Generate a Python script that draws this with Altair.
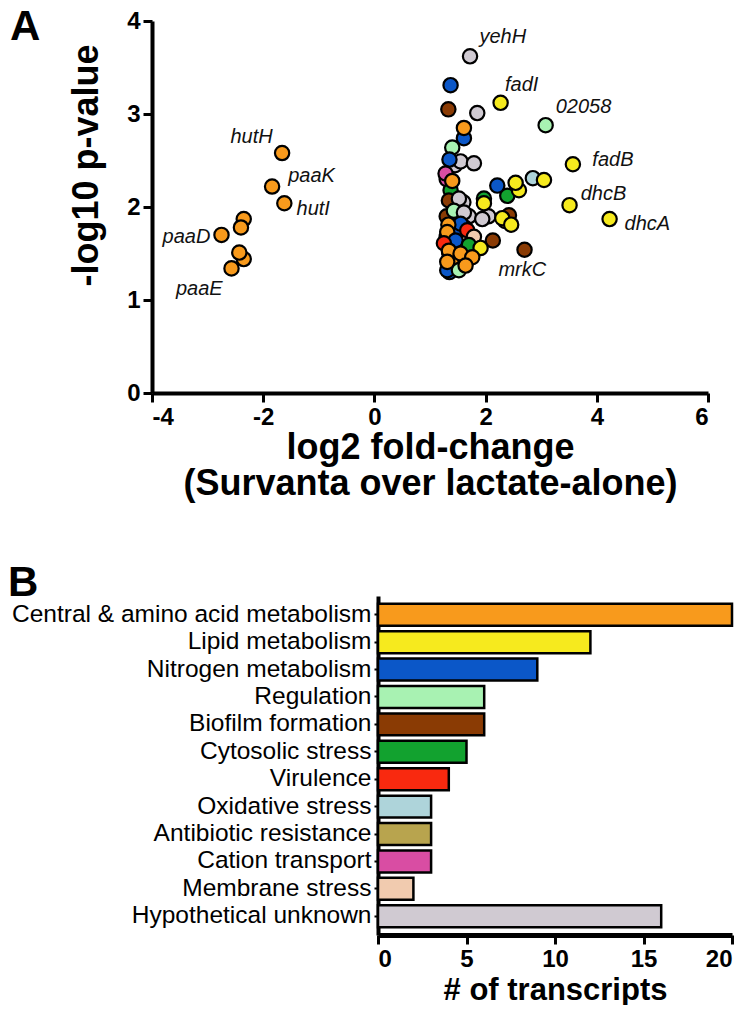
import altair as alt
import pandas as pd

# ---------------- data ----------------
categories = ["Central & amino acid metabolism", "Lipid metabolism", "Nitrogen metabolism",
              "Regulation", "Biofilm formation", "Cytosolic stress", "Virulence",
              "Oxidative stress", "Antibiotic resistance", "Cation transport",
              "Membrane stress", "Hypothetical unknown"]
codes = ["O", "Y", "N", "R", "B", "C", "V", "X", "A", "T", "M", "H"]
colors = ["#F89A1C", "#F6EA1E", "#0B57C8", "#A8F2B2", "#8A3B04", "#12A22F",
          "#F9290F", "#AED4DA", "#B8A44E", "#D94DA3", "#F1CBAF", "#D0CAD2"]
counts = [20, 12, 9, 6, 6, 5, 4, 3, 3, 3, 2, 16]

# volcano points (drawing order: back to front)
pt_cat = ["H", "H", "H", "H", "H", "H", "H", "H", "H",
          "A", "A", "A", "X", "X", "T", "T", "M", "V", "V", "C", "B", "R", "R", "N", "N", "Y", "O", "O",
          "H", "N", "Y", "B", "H", "R", "N", "O", "R", "H", "H", "N", "Y", "T", "X", "Y", "C", "O",
          "C", "Y", "N", "Y", "Y", "B", "H", "C", "Y", "R", "H", "H", "B", "Y", "Y", "Y", "N", "V",
          "O", "O", "M", "B", "N", "V", "C", "Y", "B", "N", "R", "O", "O", "O", "O", "O",
          "O", "O", "O", "O", "O", "O", "O", "O", "O"]
pt_fc = [1.45, 1.60, 1.70, 1.50, 2.05, 1.45, 1.55, 1.40, 1.60,
         1.40, 1.35, 1.50, 1.45, 1.55, 1.30, 1.35, 1.70, 1.62, 1.30, 1.40, 1.30, 1.45, 1.35, 1.35, 1.50, 2.35, 1.45, 1.40,
         1.72, 1.37, 2.27, 1.33, 1.85, 3.08, 1.61, 1.61, 1.40, 1.55, 1.79, 1.35, 3.57, 1.28, 2.85, 3.05, 1.37, 1.40,
         2.39, 2.60, 2.21, 2.54, 3.51, 1.34, 1.52, 1.97, 1.97, 1.43, 1.61, 1.94, 2.42, 2.30, 2.46, 4.23, 1.55, 1.67,
         1.33, 1.31, 1.79, 2.13, 1.46, 1.25, 1.70, 1.91, 2.70, 1.31, 1.52, 1.34, 1.55, 1.76, 1.64, 1.31,
         -1.66, -1.84, -1.62, -2.35, -2.40, -2.75, -2.35, -2.43, -2.57]
pt_p = [2.45, 2.05, 1.90, 1.85, 1.90, 1.90, 1.70, 1.40, 1.55,
        1.55, 1.65, 1.45, 1.70, 1.60, 2.30, 1.50, 1.65, 1.78, 1.68, 2.12, 1.90, 2.00, 1.60, 1.30, 1.75, 1.85, 1.55, 1.45,
        3.62, 3.31, 3.12, 3.05, 3.01, 2.88, 2.74, 2.85, 2.64, 2.49, 2.47, 2.51, 2.46, 2.36, 2.31, 2.29, 2.18, 2.28,
        2.12, 2.18, 2.23, 2.26, 2.02, 2.07, 2.09, 2.09, 2.04, 1.96, 1.94, 1.87, 1.91, 1.88, 1.81, 1.87, 1.82, 1.75,
        1.81, 1.73, 1.68, 1.64, 1.64, 1.61, 1.59, 1.56, 1.54, 1.32, 1.32, 1.53, 1.50, 1.46, 1.37, 1.41,
        2.58, 2.22, 2.04, 1.87, 1.78, 1.70, 1.44, 1.51, 1.34]

# gene annotations (text anchor in data units)
gene_names = ["yehH", "fadI", "02058", "fadB", "dhcB", "dhcA", "mrkC", "hutH", "paaK", "hutI", "paaD", "paaE"]
gene_fc = [1.89, 2.35, 3.26, 3.92, 3.71, 4.50, 2.23, -1.83, -1.55, -1.40, -2.95, -2.73]
gene_p = [3.83, 3.31, 3.07, 2.51, 2.14, 1.82, 1.32, 2.75, 2.33, 1.98, 1.68, 1.12]
gene_align = ["left", "left", "left", "left", "left", "left", "left", "right", "left", "left", "right", "right"]

x_ticks = [-4, -2, 0, 2, 4, 6]
y_ticks = [0, 1, 2, 3, 4]
bar_ticks = [0, 5, 10, 15, 20]

# ---------------- frames ----------------
code_to_cat = dict(zip(codes, categories))
pts = pd.DataFrame({"fc": pt_fc, "p": pt_p,
                    "cat": [code_to_cat[c] for c in pt_cat],
                    "idx": list(range(len(pt_fc)))})
genes = pd.DataFrame({"g": gene_names, "fc": gene_fc, "p": gene_p, "al": gene_align})
bars = pd.DataFrame({"cat": categories, "n": counts})

FONT = "Liberation Sans"
color_scale = alt.Scale(domain=categories, range=colors)
hyphen_labels = "datum.value < 0 ? '-' + abs(datum.value) : '' + datum.value"

xA = alt.X("fc:Q", scale=alt.Scale(domain=[-4, 6], nice=False, zero=False),
           axis=alt.Axis(values=x_ticks, labelExpr=hyphen_labels, grid=False,
                         domainWidth=4, domainColor="black", tickColor="black",
                         tickWidth=3, tickSize=9, labelFont=FONT, labelFontSize=24,
                         labelFontWeight="bold", labelColor="black", labelPadding=3,
                         title=["log2 fold-change", "(Survanta over lactate-alone)"],
                         titleFont=FONT, titleFontSize=36, titleFontWeight="bold",
                         titleColor="black", titlePadding=1, titleLineHeight=36))
yA = alt.Y("p:Q", scale=alt.Scale(domain=[0, 4], nice=False),
           axis=alt.Axis(values=y_ticks, format="d", grid=False,
                         domainWidth=4, domainColor="black", tickColor="black",
                         tickWidth=3, tickSize=9, labelFont=FONT, labelFontSize=24,
                         labelFontWeight="bold", labelColor="black", labelPadding=3,
                         title="-log10 p-value", titleFont=FONT, titleFontSize=36,
                         titleFontWeight="bold", titleColor="black",
                         titleX=-66, titleY=144, titleAngle=270,
                         titleAlign="center", titleBaseline="middle"))

points = alt.Chart(pts).mark_point(filled=True, shape="circle", size=205,
                                   stroke="black", strokeWidth=2.2, opacity=1).encode(
    x=xA, y=yA,
    fill=alt.Fill("cat:N", scale=color_scale, legend=None),
    order=alt.Order("idx:Q"))

gl = alt.Chart(genes[genes.al == "left"]).mark_text(
    font=FONT, fontSize=20, fontStyle="italic", align="left", baseline="middle", color="#111").encode(
    x="fc:Q", y="p:Q", text="g:N")
gr = alt.Chart(genes[genes.al == "right"]).mark_text(
    font=FONT, fontSize=20, fontStyle="italic", align="right", baseline="middle", color="#111").encode(
    x="fc:Q", y="p:Q", text="g:N")

letterA = alt.Chart(pd.DataFrame({"t": ["A"]})).mark_text(
    font=FONT, fontSize=42, fontWeight="bold", align="left", baseline="alphabetic").encode(
    x=alt.value(-142), y=alt.value(19), text="t:N")

panelA = alt.layer(points, gl, gr, letterA).properties(width=556, height=372)

# panel B shares panel A's plot origin; its bars are drawn in a shifted x range
B_X0, B_X1 = 226, 580
bar = alt.Chart(bars).mark_bar(stroke="black", strokeWidth=2.5).encode(
    x=alt.X("n:Q", scale=alt.Scale(domain=[0, 20], nice=False, range=[B_X0, B_X1]),
            axis=alt.Axis(values=bar_ticks, grid=False, domainWidth=5, domainColor="black",
                          tickColor="black", tickWidth=3, tickSize=9, labelFont=FONT,
                          labelFontSize=24, labelFontWeight="bold", labelColor="black",
                          labelPadding=3, title="# of transcripts", titleFont=FONT,
                          titleFontSize=31, titleFontWeight="bold", titleColor="black",
                          titlePadding=4, titleX=(B_X0 + B_X1) / 2, titleAnchor="middle")),
    y=alt.Y("cat:N", sort=categories,
            scale=alt.Scale(paddingInner=0.2, paddingOuter=0.285),
            axis=alt.Axis(grid=False, domainWidth=4, domainColor="black", tickColor="black",
                          tickWidth=2, tickSize=4, labelFont=FONT, labelFontSize=24.5,
                          labelColor="black", labelPadding=3, labelLimit=500, title=None,
                          offset=-B_X0)),
    x2=alt.datum(0),
    fill=alt.Fill("cat:N", scale=color_scale, legend=None))

letterB = alt.Chart(pd.DataFrame({"t": ["B"]})).mark_text(
    font=FONT, fontSize=42, fontWeight="bold", align="left", baseline="alphabetic").encode(
    x=alt.value(-144), y=alt.value(0), text="t:N")

panelB = alt.layer(bar, letterB).properties(width=B_X1, height=339)

chart = alt.vconcat(panelA, panelB, spacing=61).properties(
    padding={"top": -2, "left": 0, "right": 0, "bottom": 0},
    background="white").configure_view(strokeWidth=0, stroke="transparent")

chart.save("out.html", embed_options={"renderer": "svg", "actions": False})
